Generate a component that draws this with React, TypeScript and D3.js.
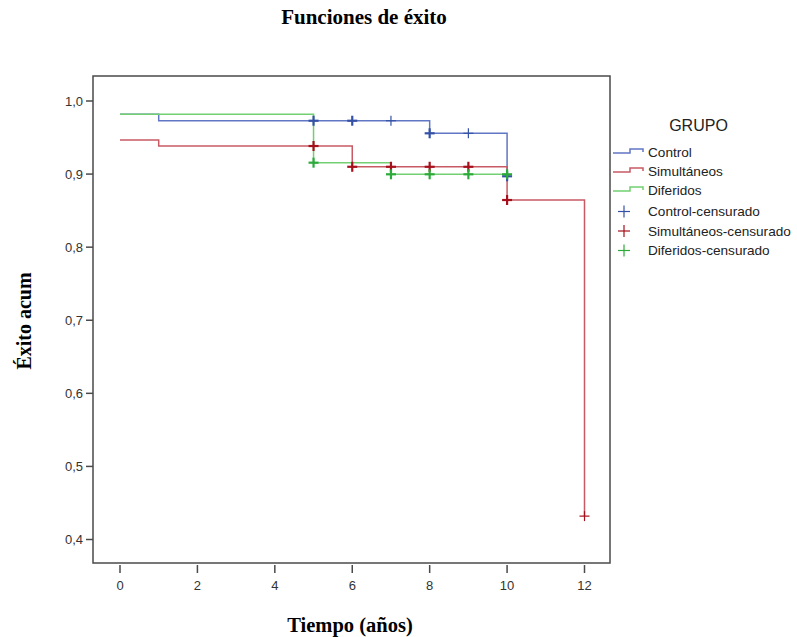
import React from 'react';
import * as d3 from 'd3';

// Survival steps (time in years, cumulative success)
const groups = ['Control', 'Simultáneos', 'Diferidos'];

const controlTimes = [0, 1, 8, 10];
const controlSurv = [0.982, 0.973, 0.9558, 0.897];
const controlCensTimes = [5, 6, 7, 8, 9, 10];
const controlCensCount = [2, 2, 1, 2, 1, 2];

const simTimes = [0, 1, 6, 10, 12];
const simSurv = [0.9466, 0.9384, 0.91, 0.8645, 0.432];
const simCensTimes = [5, 6, 7, 8, 9, 10, 12];
const simCensCount = [2, 2, 2, 2, 2, 2, 1];

const difTimes = [0, 5, 7, 10];
const difSurv = [0.982, 0.9156, 0.8997, 0.8997];
const difCensTimes = [5, 7, 8, 9, 10];
const difCensCount = [2, 2, 2, 2, 2];

const xTicks = [0, 2, 4, 6, 8, 10, 12];
const yTicks = [0.4, 0.5, 0.6, 0.7, 0.8, 0.9, 1.0];

const lineColors = ['#6176c4', '#c85a64', '#72cf72'];
const markColors = ['#3451a6', '#a5101c', '#2caa3a'];

const W = 797;
const H = 637;
const frame = { left: 93, right: 610, top: 76, bottom: 563 };

const App = () => {
    const x = d3.scaleLinear().domain([0, 12]).range([120, 584.5]);
    const y = d3.scaleLinear().domain([0.4, 1.0]).range([539.5, 101]);

    const series = [
        { times: controlTimes, surv: controlSurv, cens: controlCensTimes, count: controlCensCount },
        { times: simTimes, surv: simSurv, cens: simCensTimes, count: simCensCount },
        { times: difTimes, surv: difSurv, cens: difCensTimes, count: difCensCount },
    ];

    const line = d3.line<[number, number]>()
        .x(d => x(d[0]))
        .y(d => y(d[1]))
        .curve(d3.curveStepAfter);

    // value of the step function at time t
    const survAt = (times: number[], surv: number[], t: number) => {
        let v = surv[0];
        times.forEach((tt, i) => { if (tt <= t) v = surv[i]; });
        return v;
    };

    const fmt = (v: number) => v.toFixed(1).replace('.', ',');
    const sans = '"Liberation Sans", Arial, sans-serif';
    const serif = '"Liberation Serif", "Times New Roman", serif';

    const legendStepY = [157, 176, 195];
    const legendCensY = [216, 235.5, 255];

    return (
        <svg width={W} height={H} style={{ display: 'block', position: 'absolute', left: 0, top: 0 }}>
            <rect width={W} height={H} fill="#fff" />
            <text x={364} y={24} textAnchor="middle" fontFamily={serif} fontWeight="bold" fontSize={21}>
                Funciones de éxito
            </text>

            {/* plot frame */}
            <rect x={frame.left} y={frame.top} width={frame.right - frame.left} height={frame.bottom - frame.top}
                fill="none" stroke="#4a4a4a" strokeWidth={1.5} />

            {/* y axis */}
            {yTicks.map(t => (
                <g key={t}>
                    <line x1={frame.left - 7} x2={frame.left} y1={y(t)} y2={y(t)} stroke="#4a4a4a" strokeWidth={1.5} />
                    <text x={frame.left - 10} y={y(t) + 4.5} textAnchor="end" fontFamily={sans} fontSize={13} fill="#333">
                        {fmt(t)}
                    </text>
                </g>
            ))}

            {/* x axis */}
            {xTicks.map(t => (
                <g key={t}>
                    <line x1={x(t)} x2={x(t)} y1={frame.bottom + 2} y2={frame.bottom + 10} stroke="#4a4a4a" strokeWidth={1.5} />
                    <text x={x(t)} y={frame.bottom + 27} textAnchor="middle" fontFamily={sans} fontSize={13} fill="#333">
                        {t}
                    </text>
                </g>
            ))}

            <text x={350} y={632} textAnchor="middle" fontFamily={serif} fontWeight="bold" fontSize={20.5}>
                Tiempo (años)
            </text>
            <text transform="translate(31,321) rotate(-90)" textAnchor="middle" fontFamily={serif} fontWeight="bold" fontSize={20}>
                Éxito acum
            </text>

            {/* step curves */}
            {series.map((s, i) => (
                <path key={groups[i]}
                    d={line(s.times.map((t, j) => [t, s.surv[j]] as [number, number])) || ''}
                    fill="none" stroke={lineColors[i]} strokeWidth={1.5} />
            ))}

            {/* censored marks */}
            {series.map((s, i) => s.cens.map((t, j) => {
                const cx = x(t);
                const cy = y(survAt(s.times, s.surv, t));
                const sw = s.count[j] > 1 ? 2.2 : 1.2;
                return (
                    <g key={`${i}-${t}`} stroke={markColors[i]} strokeWidth={sw}>
                        <line x1={cx - 5} x2={cx + 5} y1={cy} y2={cy} />
                        <line x1={cx} x2={cx} y1={cy - 5} y2={cy + 5} />
                    </g>
                );
            }))}

            {/* legend */}
            <text x={698.5} y={131} textAnchor="middle" fontFamily={sans} fontSize={16} fill="#222">GRUPO</text>
            {groups.map((g, i) => {
                const by = legendStepY[i];
                return (
                    <g key={g}>
                        <path d={`M613,${by - 4}H630V${by - 8}H643V${by - 5}`} fill="none" stroke={lineColors[i]} strokeWidth={1.5} />
                        <text x={648} y={by} fontFamily={sans} fontSize={13.6} fill="#222">{g}</text>
                    </g>
                );
            })}
            {groups.map((g, i) => {
                const by = legendCensY[i];
                return (
                    <g key={`${g}-c`}>
                        <g stroke={markColors[i]} strokeWidth={1.2}>
                            <line x1={618} x2={630} y1={by - 4.5} y2={by - 4.5} />
                            <line x1={624} x2={624} y1={by - 10.5} y2={by + 1.5} />
                        </g>
                        <text x={648} y={by} fontFamily={sans} fontSize={13.6} fill="#222">{g}-censurado</text>
                    </g>
                );
            })}
        </svg>
    );
};

export default App;
